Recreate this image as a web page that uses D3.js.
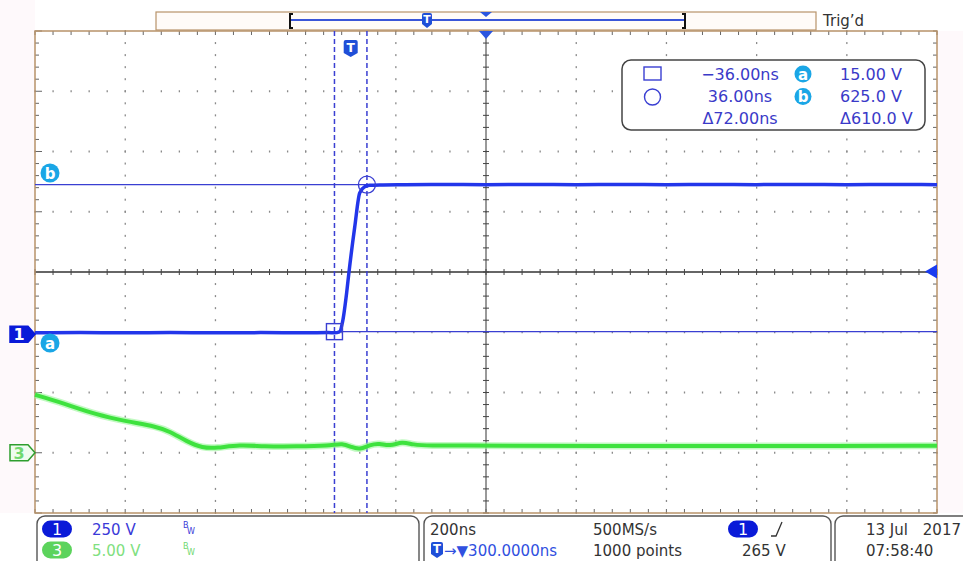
<!DOCTYPE html>
<html><head><meta charset="utf-8">
<script src="https://cdn.jsdelivr.net/npm/d3@7"></script>
<style>
html,body{margin:0;padding:0;background:#fff;}
svg{display:block;font-family:"DejaVu Sans",sans-serif;}
</style></head><body>
<svg id="scope" width="963" height="561"></svg>
<script>
// ---- Acquisition settings ----
const timePerDiv = 200;      // ns / div
const horizPos = 300;        // ns, trigger point left of centre
const ch1Scale = 250, ch1Pos = -1.05;   // V/div, ground position in div
const ch3Scale = 5,   ch3Pos = -3;
const trigLevel = 265;       // V on channel 1

// ---- Channel 1 waveform (ns, V) ----
const ch1Time  = [-700,-600,-500,-400,-300,-200,-100,-50,-36,-25,-18,-9,-4,9,20,31,42,64,120,200,300,400,500,600,700,800,900,1000,1100,1200,1300];
const ch1Volts = [10,11,10,11,10,11,10,11,10,14,56,176,259,450,591,616,622,624,625,626,625,626,625,626,625,626,625,626,625,626,625];

// ---- Channel 3 waveform (ns, V) ----
const ch3Time  = [-700,-638,-564,-497,-431,-401,-364,-328,-298,-246,-194,-120,-47,-18,2,20,42,64,86,115,137,175,253,330,552,774,996,1300];
const ch3Volts = [4.81,4.12,3.15,2.60,2.18,1.77,0.94,0.39,0.39,0.66,0.52,0.52,0.58,0.80,0.46,0.25,0.66,0.80,0.52,0.94,0.66,0.58,0.62,0.58,0.54,0.58,0.54,0.58];

// ---- Cursors and readout ----
const cursorTimes = [-36, 36];
const cursorVolts = [15, 625];
const readoutTime = ["\u221236.00ns", "36.00ns", "\u039472.00ns"];
const readoutVolt = ["15.00 V", "625.0 V", "\u0394610.0 V"];

// ---- Status bar labels ----
const chanScaleLabels = ["250 V", "5.00 V"];
const horizLabels = ["200ns", "500MS/s"];
const horizLabels2 = ["\u2192\u25BC300.0000ns", "1000 points"];
const trigLabel = "265 V";
const dateLabels = ["13 Jul", "2017", "07:58:40"];

const svg = d3.select("#scope");
const L = 35, R = 937, T = 31, B = 513;
const blue = "#2236ea", cursBlue = "#3a3fd2", txtBlue = "#3a3ac8", badge = "#1aa6e6";
const green = "#3ee23e", grey = "#8a8a8a";

const x = d3.scaleLinear().domain([horizPos - 5 * timePerDiv, horizPos + 5 * timePerDiv]).range([L, R]);
const yDiv = d3.scaleLinear().domain([-4, 4]).range([B, T]);
const y1 = v => yDiv(v / ch1Scale + ch1Pos);
const y3 = v => yDiv(v / ch3Scale + ch3Pos);

// side margins
svg.append("rect").attr("x", 0).attr("y", 0).attr("width", L).attr("height", B).attr("fill", "#fef9fb");
svg.append("rect").attr("x", R).attr("y", T).attr("width", 963 - R).attr("height", B - T).attr("fill", "#fef9fb");

// ---- Graticule ----
const majT = d3.range(-700, 1301, 200);
const minT = d3.range(-700, 1301, 40);
const majD = d3.range(-4, 4.001, 1);
const minD = d3.range(-4, 4.001, 0.2);
const g = svg.append("g");

// dotted division lines
majT.filter(t => t !== -700 && t !== 1300 && t !== 300).forEach(t => {
  g.selectAll(null).data(minD).join("rect")
    .attr("x", x(t) - 0.6).attr("y", d => yDiv(d) - 1).attr("width", 1.3).attr("height", 2).attr("fill", grey);
});
majD.filter(d => d !== -4 && d !== 4 && d !== 0).forEach(d => {
  g.selectAll(null).data(minT).join("rect")
    .attr("x", t => x(t) - 0.6).attr("y", yDiv(d) - 1).attr("width", 1.3).attr("height", 2).attr("fill", grey);
});

// centre axes with ticks
g.append("line").attr("x1", L).attr("x2", R).attr("y1", yDiv(0)).attr("y2", yDiv(0)).attr("stroke", "#333").attr("stroke-width", 1.3);
g.append("line").attr("x1", x(300)).attr("x2", x(300)).attr("y1", T).attr("y2", B).attr("stroke", "#555").attr("stroke-width", 1.2);
g.selectAll(null).data(minT).join("line")
  .attr("x1", t => x(t)).attr("x2", t => x(t)).attr("y1", yDiv(0) - 3).attr("y2", yDiv(0) + 3).attr("stroke", "#444");
g.selectAll(null).data(minD).join("line")
  .attr("y1", d => yDiv(d)).attr("y2", d => yDiv(d)).attr("x1", x(300) - 3).attr("x2", x(300) + 3).attr("stroke", "#444");

// border ticks
g.selectAll(null).data(minT).join("line")
  .attr("x1", t => x(t)).attr("x2", t => x(t)).attr("y1", T).attr("y2", T + 4).attr("stroke", "#666");
g.selectAll(null).data(minT).join("line")
  .attr("x1", t => x(t)).attr("x2", t => x(t)).attr("y1", B - 4).attr("y2", B).attr("stroke", "#666");
g.selectAll(null).data(minD).join("line")
  .attr("y1", d => yDiv(d)).attr("y2", d => yDiv(d)).attr("x1", L)
  .attr("x2", d => L + (Math.abs(d - Math.round(d)) < 1e-6 ? 7 : 4)).attr("stroke", "#666");
g.selectAll(null).data(minD).join("line")
  .attr("y1", d => yDiv(d)).attr("y2", d => yDiv(d)).attr("x1", R - 4).attr("x2", R).attr("stroke", "#666");

// border
g.append("rect").attr("x", L).attr("y", T).attr("width", R - L).attr("height", B - T)
  .attr("fill", "none").attr("stroke", "#b8936a").attr("stroke-width", 1.5);

// ---- Cursors ----
cursorTimes.forEach(t => {
  svg.append("line").attr("x1", x(t)).attr("x2", x(t)).attr("y1", T).attr("y2", B)
    .attr("stroke", cursBlue).attr("stroke-width", 1.5).attr("stroke-dasharray", "5,3");
});
cursorVolts.forEach(v => {
  svg.append("line").attr("x1", L).attr("x2", R).attr("y1", y1(v)).attr("y2", y1(v))
    .attr("stroke", cursBlue).attr("stroke-width", 1.3);
});

// ---- Waveforms ----
const line1 = d3.line().x(d => x(d[0])).y(d => y1(d[1])).curve(d3.curveMonotoneX);
const line3 = d3.line().x(d => x(d[0])).y(d => y3(d[1])).curve(d3.curveBasis);
const ch3Data = d3.zip(ch3Time, ch3Volts);
svg.append("path").attr("d", line3(ch3Data)).attr("fill", "none").attr("stroke", "#9af59a").attr("stroke-width", 7).attr("opacity", 0.6);
svg.append("path").attr("d", line3(ch3Data)).attr("fill", "none").attr("stroke", green).attr("stroke-width", 4);
svg.append("path").attr("d", line1(d3.zip(ch1Time, ch1Volts))).attr("fill", "none").attr("stroke", blue).attr("stroke-width", 3.5);

// cursor markers
svg.append("rect").attr("x", x(cursorTimes[0]) - 8).attr("y", y1(cursorVolts[0]) - 8).attr("width", 16).attr("height", 16)
  .attr("fill", "none").attr("stroke", cursBlue).attr("stroke-width", 1.4);
svg.append("circle").attr("cx", x(cursorTimes[1])).attr("cy", y1(cursorVolts[1])).attr("r", 8.5)
  .attr("fill", "none").attr("stroke", cursBlue).attr("stroke-width", 1.4);

// ---- Badges ----
function badgeAt(cx, cy, letter, r) {
  svg.append("circle").attr("cx", cx).attr("cy", cy).attr("r", r).attr("fill", badge);
  svg.append("text").attr("x", cx).attr("y", cy + 5.5).attr("text-anchor", "middle")
    .attr("font-size", 15).attr("font-weight", "bold").attr("fill", "#fff").text(letter);
}
badgeAt(50, 173, "b", 9.5);
badgeAt(50, 343, "a", 9.5);

// channel ground markers
function chanMarker(cy, label, fill, stroke, tcol) {
  svg.append("path").attr("d", `M10,${cy - 8} H28 L35,${cy} L28,${cy + 8} H10 Z`)
    .attr("fill", fill).attr("stroke", stroke).attr("stroke-width", 1.5);
  svg.append("text").attr("x", 19).attr("y", cy + 6).attr("text-anchor", "middle")
    .attr("font-size", 16).attr("font-weight", "bold").attr("fill", tcol).text(label);
}
chanMarker(y1(0) - 1, "1", "#0a1ad8", "#0a1ad8", "#fff");
chanMarker(y3(0), "3", "#effcef", "#2e9e2e", "#6fd86f");

// trigger level marker
const ty = y1(trigLevel);
svg.append("path").attr("d", `M${R - 12},${ty} L${R},${ty - 7} L${R},${ty + 7} Z`).attr("fill", "#1a3cf0");

// trigger position marker
const tx0 = x(300);
svg.append("path").attr("d", `M${tx0 - 7},${T} L${tx0 + 7},${T} L${tx0},${T + 8} Z`).attr("fill", "#2a55e0");

// T shield
function shield(cx, top, w, h) {
  svg.append("path").attr("d", `M${cx - w / 2},${top + 2} Q${cx - w / 2},${top} ${cx - w / 2 + 2},${top} H${cx + w / 2 - 2} Q${cx + w / 2},${top} ${cx + w / 2},${top + 2} V${top + h - 4} L${cx},${top + h} L${cx - w / 2},${top + h - 4} Z`)
    .attr("fill", "#1f4fd8");
  svg.append("text").attr("x", cx).attr("y", top + h - 5).attr("text-anchor", "middle")
    .attr("font-size", h * 0.72).attr("font-weight", "bold").attr("fill", "#fff").text("T");
}
shield(x(0), 40, 14, 17);

// ---- Record bar ----
svg.append("rect").attr("x", 156).attr("y", 12).attr("width", 660).attr("height", 18)
  .attr("fill", "#fffbf8").attr("stroke", "#b8936a").attr("stroke-width", 1.2);
svg.append("line").attr("x1", 290).attr("x2", 685).attr("y1", 20).attr("y2", 20).attr("stroke", "#3a55d8").attr("stroke-width", 2);
svg.append("path").attr("d", "M293,14 H290 V28 H293").attr("fill", "none").attr("stroke", "#111").attr("stroke-width", 2);
svg.append("path").attr("d", "M682,14 H685 V28 H682").attr("fill", "none").attr("stroke", "#111").attr("stroke-width", 2);
svg.append("path").attr("d", `M${tx0 - 6},12 L${tx0 + 6},12 L${tx0},17 Z`).attr("fill", "#2a55e0");
shield(427, 13, 10, 15);
svg.append("text").attr("x", 823).attr("y", 26).attr("font-size", 15).attr("fill", "#333").text("Trig\u2019d");

// ---- Cursor readout ----
svg.append("rect").attr("x", 622).attr("y", 60).attr("width", 303).attr("height", 70).attr("rx", 9)
  .attr("fill", "#fff").attr("stroke", "#444").attr("stroke-width", 1.5);
svg.append("rect").attr("x", 644).attr("y", 67).attr("width", 17).attr("height", 13).attr("fill", "none").attr("stroke", cursBlue).attr("stroke-width", 1.4);
svg.append("circle").attr("cx", 652.5).attr("cy", 97).attr("r", 8).attr("fill", "none").attr("stroke", cursBlue).attr("stroke-width", 1.4);
const rowY = [80, 102, 124];
readoutTime.forEach((s, i) => svg.append("text").attr("x", 740).attr("y", rowY[i]).attr("text-anchor", "middle")
  .attr("font-size", 16).attr("fill", txtBlue).text(s));
readoutVolt.forEach((s, i) => svg.append("text").attr("x", 840).attr("y", rowY[i]).attr("font-size", 16).attr("fill", txtBlue).text(s));
badgeAt(803, 74, "a", 8.5);
badgeAt(803, 96.5, "b", 8.5);

// ---- Status bar ----
function panel(x0, x1) {
  svg.append("rect").attr("x", x0).attr("y", 516).attr("width", x1 - x0).attr("height", 60).attr("rx", 8)
    .attr("fill", "#fff").attr("stroke", "#555").attr("stroke-width", 1.4);
}
panel(37, 419); panel(424, 831); panel(835, 990);

function pill(x0, cy, label, fill) {
  svg.append("rect").attr("x", x0).attr("y", cy - 8.5).attr("width", 30).attr("height", 17).attr("rx", 8.5).attr("fill", fill);
  svg.append("text").attr("x", x0 + 15).attr("y", cy + 6).attr("text-anchor", "middle")
    .attr("font-size", 16).attr("fill", "#fff").text(label);
}
const r1 = 529, r2 = 550;
pill(42, r1, "1", "#0a1ad8");
pill(42, r2, "3", "#5cd35c");
svg.append("text").attr("x", 92).attr("y", r1 + 6).attr("font-size", 15).attr("fill", "#3a3ad8").text(chanScaleLabels[0]);
svg.append("text").attr("x", 92).attr("y", r2 + 6).attr("font-size", 15).attr("fill", "#80e080").text(chanScaleLabels[1]);
[[r1, "#3a3ad8"], [r2, "#6fd86f"]].forEach(([cy, c]) => {
  svg.append("text").attr("x", 183).attr("y", cy - 1).attr("font-size", 8).attr("fill", c).text("B");
  svg.append("text").attr("x", 187).attr("y", cy + 5).attr("font-size", 8).attr("fill", c).text("W");
});

svg.append("text").attr("x", 430).attr("y", r1 + 6).attr("font-size", 15).attr("fill", "#333").text(horizLabels[0]);
svg.append("text").attr("x", 593).attr("y", r1 + 6).attr("font-size", 15).attr("fill", "#333").text(horizLabels[1]);
shield(437, r2 - 8, 12, 16);
svg.append("text").attr("x", 444).attr("y", r2 + 6).attr("font-size", 15).attr("fill", "#3050e0").text(horizLabels2[0]);
svg.append("text").attr("x", 593).attr("y", r2 + 6).attr("font-size", 15).attr("fill", "#333").text(horizLabels2[1]);
pill(728, r1, "1", "#0a1ad8");
svg.append("path").attr("d", `M771,${r1 + 7} H776 L782,${r1 - 7}`).attr("fill", "none").attr("stroke", "#333").attr("stroke-width", 1.3);
svg.append("text").attr("x", 742).attr("y", r2 + 6).attr("font-size", 15).attr("fill", "#333").text(trigLabel);

svg.append("text").attr("x", 866).attr("y", r1 + 6).attr("font-size", 15).attr("fill", "#333").text(dateLabels[0]);
svg.append("text").attr("x", 961).attr("y", r1 + 6).attr("text-anchor", "end").attr("font-size", 15).attr("fill", "#333").text(dateLabels[1]);
svg.append("text").attr("x", 866).attr("y", r2 + 6).attr("font-size", 15).attr("fill", "#333").text(dateLabels[2]);
</script>
</body></html>
